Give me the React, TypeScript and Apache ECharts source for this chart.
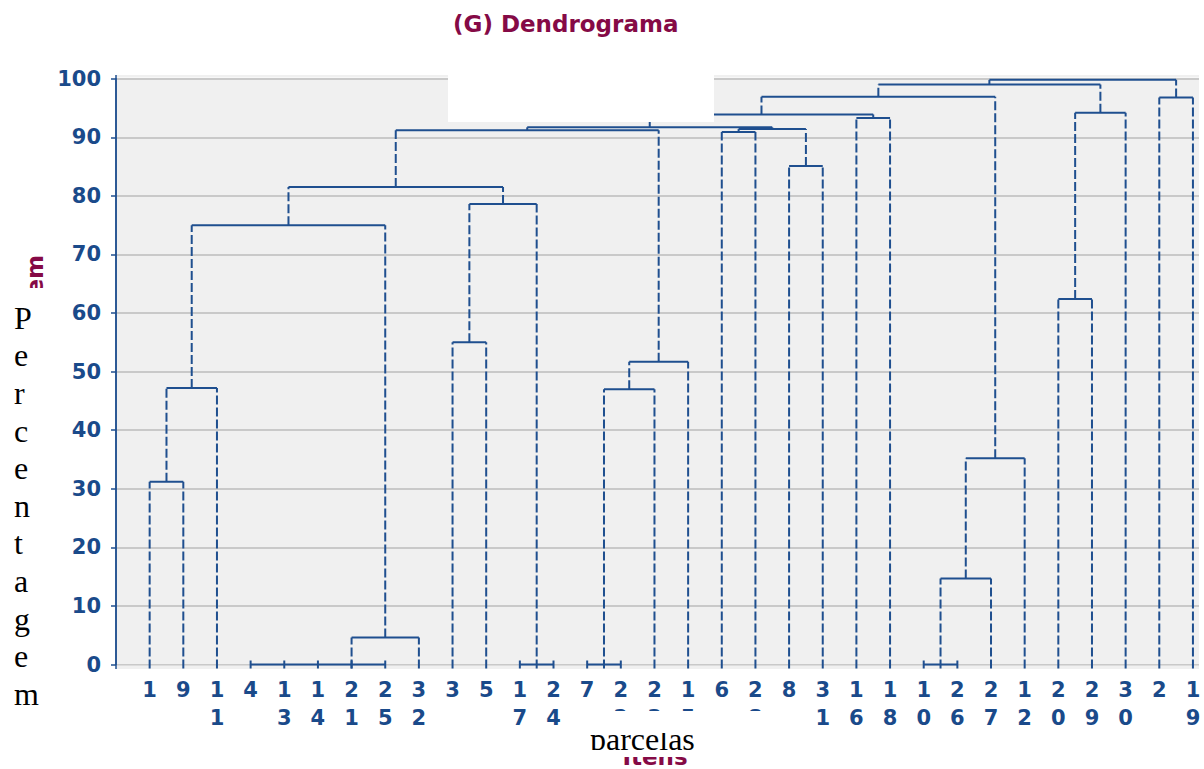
import React, { useEffect, useRef } from "react";
import * as echarts from "echarts";

// Leaf order along the x axis (positions 1..32)
const leafLabels = [
  "1", "9", "11", "4", "13", "14", "21", "25", "32", "3", "5", "17", "24", "7", "22", "23",
  "15", "6", "28", "8", "31", "16", "18", "10", "26", "27", "12", "20", "29", "30", "2", "19",
];

// Groups of leaves joined at 0 %: [id, first position, last position, drawn anchor (null = centre)]
const zeroGroups: [string, number, number, number | null][] = [
  ["z1", 4, 8, 7],
  ["z2", 12, 13, null],
  ["z3", 14, 15, null],
  ["z4", 24, 25, null],
];

// Merges: [id, left child, right child, height %]; numbers are leaf positions
const merges: [string, number | string, number | string, number][] = [
  ["m1", 1, 2, 31.2],
  ["m2", "m1", 3, 47.2],
  ["m3", "z1", 9, 4.6],
  ["m4", "m2", "m3", 75.0],
  ["m5", 10, 11, 55.0],
  ["m6", "m5", "z2", 78.6],
  ["m7", "m4", "m6", 81.5],
  ["m8", "z3", 16, 47.0],
  ["m9", "m8", 17, 51.7],
  ["m10", "m7", "m9", 91.2],
  ["m11", 18, 19, 90.9],
  ["m12", 20, 21, 85.1],
  ["m13", "m11", "m12", 91.4],
  ["m14", "m10", "m13", 91.7],
  ["m15", 22, 23, 93.3],
  ["m16", "m14", "m15", 93.9],
  ["m17", "z4", 26, 14.7],
  ["m18", "m17", 27, 35.2],
  ["m19", "m16", "m18", 96.9],
  ["m20", 28, 29, 62.4],
  ["m21", "m20", 30, 94.2],
  ["m22", "m19", "m21", 99.0],
  ["m23", 31, 32, 96.8],
  ["m24", "m22", "m23", 99.8],
];

const LINE = "#1f4f8f";
const AXIS_TXT = "#1a4a8a";
const MAROON = "#850a46";
const GRID_BG = "#f0f0f0";

function buildSegments() {
  const pos: Record<string, number> = {};
  const hgt: Record<string, number> = {};
  const segs: number[][] = [];
  zeroGroups.forEach(([id, a, b, anchor]) => {
    pos[id] = anchor == null ? (a + b) / 2 : anchor;
    hgt[id] = 0;
    segs.push([a, 0, b, 0, 0]);
    for (let p = a; p <= b; p++) segs.push([p, 0, p, 0, 2]);
  });
  const P = (r: number | string) => (typeof r === "number" ? r : pos[r]);
  const H = (r: number | string) => (typeof r === "number" ? 0 : hgt[r]);
  merges.forEach(([id, l, r, h]) => {
    const xl = P(l), xr = P(r);
    segs.push([xl, h, xr, h, 0]);
    segs.push([xl, H(l), xl, h, 1]);
    segs.push([xr, H(r), xr, h, 1]);
    pos[id] = (xl + xr) / 2;
    hgt[id] = h;
  });
  return segs;
}

export default function App() {
  const ref = useRef<HTMLDivElement>(null);
  useEffect(() => {
    if (!ref.current) return;
    const chart = echarts.init(ref.current, undefined, { renderer: "svg" });
    const segments = buildSegments();
    const font = "DejaVu Sans";
    chart.setOption({
      animation: false,
      backgroundColor: "#ffffff",
      title: {
        text: "(G) Dendrograma",
        left: 453,
        top: 12,
        padding: 0,
        textStyle: { fontFamily: font, fontWeight: "bold", fontSize: 23, color: MAROON },
      },
      grid: {
        left: 116,
        right: 5,
        top: 78.7,
        bottom: 104.5,
        show: true,
        backgroundColor: GRID_BG,
        borderWidth: 0,
      },
      xAxis: {
        type: "value",
        min: 0,
        max: 32.18,
        interval: 1,
        axisLine: { show: false },
        axisTick: { show: false },
        splitLine: { show: false },
        axisLabel: {
          showMaxLabel: false,
          fontFamily: font,
          fontWeight: "bold",
          fontSize: 21,
          lineHeight: 28,
          color: AXIS_TXT,
          margin: 11,
          formatter: (v: number) => {
            const i = Math.round(v);
            if (Math.abs(v - i) > 1e-6 || i < 1 || i > leafLabels.length) return "";
            return leafLabels[i - 1].split("").join("\n");
          },
        },
      },
      yAxis: {
        type: "value",
        min: 0,
        max: 100,
        interval: 10,
        axisLine: { show: true, lineStyle: { color: LINE, width: 1.5 } },
        axisTick: { show: true, length: 5, lineStyle: { color: LINE, width: 1.5 } },
        splitLine: { show: true, lineStyle: { color: "#c9c9c9", width: 2 } },
        axisLabel: {
          fontFamily: font,
          fontWeight: "bold",
          fontSize: 21,
          color: AXIS_TXT,
          margin: 15,
          padding: [0, 0, 17, 0],
        },
      },
      series: [
        {
          type: "custom",
          z: 5,
          clip: false,
          encode: { x: [0, 2], y: [1, 3] },
          data: segments,
          renderItem: (params: any, api: any) => {
            const p1 = api.coord([api.value(0), api.value(1)]);
            const p2 = api.coord([api.value(2), api.value(3)]);
            const kind = api.value(4);
            if (kind === 2) {
              return {
                type: "line",
                shape: { x1: p1[0], y1: p1[1] - 4, x2: p1[0], y2: p1[1] + 4 },
                style: { stroke: LINE, lineWidth: 2 },
              };
            }
            const ext = kind === 1 && api.value(1) === 0 ? 4 : 0;
            return {
              type: "line",
              shape: { x1: p1[0], y1: p1[1] + ext, x2: p2[0], y2: p2[1] },
              style: {
                stroke: LINE,
                lineWidth: 2,
                lineDash: kind === 1 ? [9, 3] : null,
              },
            };
          },
        },
      ],
      graphic: [
        { type: "rect", z: 1, shape: { x: 116, y: 75, width: 1083, height: 2.6 }, style: { fill: GRID_BG } },
        { type: "rect", z: 1, shape: { x: 116, y: 665.6, width: 1083, height: 3.4 }, style: { fill: GRID_BG } },
        { type: "line", z: 3, shape: { x1: 116, y1: 75, x2: 116, y2: 669 }, style: { stroke: LINE, lineWidth: 1.5 } },
        { type: "rect", z: 20, shape: { x: 448, y: 44, width: 266, height: 78 }, style: { fill: "#ffffff" } },
        {
          type: "text",
          z: 20,
          x: 35,
          y: 255,
          rotation: Math.PI / 2,
          style: {
            text: "Percentagem",
            fill: MAROON,
            font: "bold 23px 'DejaVu Sans'",
            textAlign: "right",
            textVerticalAlign: "middle",
          },
        },
        { type: "rect", z: 21, shape: { x: 0, y: 288, width: 66, height: 481 }, style: { fill: "#ffffff" } },
        {
          type: "text",
          z: 22,
          x: 14,
          y: 299,
          style: {
            text: "Percentagem".split("").join("\n"),
            fill: "#000000",
            font: "32px 'Liberation Serif'",
            lineHeight: 37.6,
            textAlign: "left",
            textVerticalAlign: "top",
          },
        },
        {
          type: "text",
          z: 20,
          x: 655,
          y: 768.5,
          style: {
            text: "Itens",
            fill: MAROON,
            font: "bold 23px 'DejaVu Sans'",
            textAlign: "center",
            textVerticalAlign: "bottom",
          },
        },
        { type: "rect", z: 21, shape: { x: 575, y: 711, width: 215, height: 46 }, style: { fill: "#ffffff" } },
        {
          type: "text",
          z: 22,
          x: 590,
          y: 755,
          style: {
            text: "parcelas",
            fill: "#000000",
            font: "32px 'Liberation Serif'",
            textAlign: "left",
            textVerticalAlign: "bottom",
          },
        },
        { type: "rect", z: 23, shape: { x: 585, y: 711, width: 120, height: 22 }, style: { fill: "#ffffff" } },
        { type: "rect", z: 23, shape: { x: 585, y: 750, width: 120, height: 7 }, style: { fill: "#ffffff" } },
      ],
    });
    return () => chart.dispose();
  }, []);
  return (
    <div
      ref={ref}
      style={{ position: "fixed", left: 0, top: 0, width: 1204, height: 769, background: "#ffffff" }}
    />
  );
}
